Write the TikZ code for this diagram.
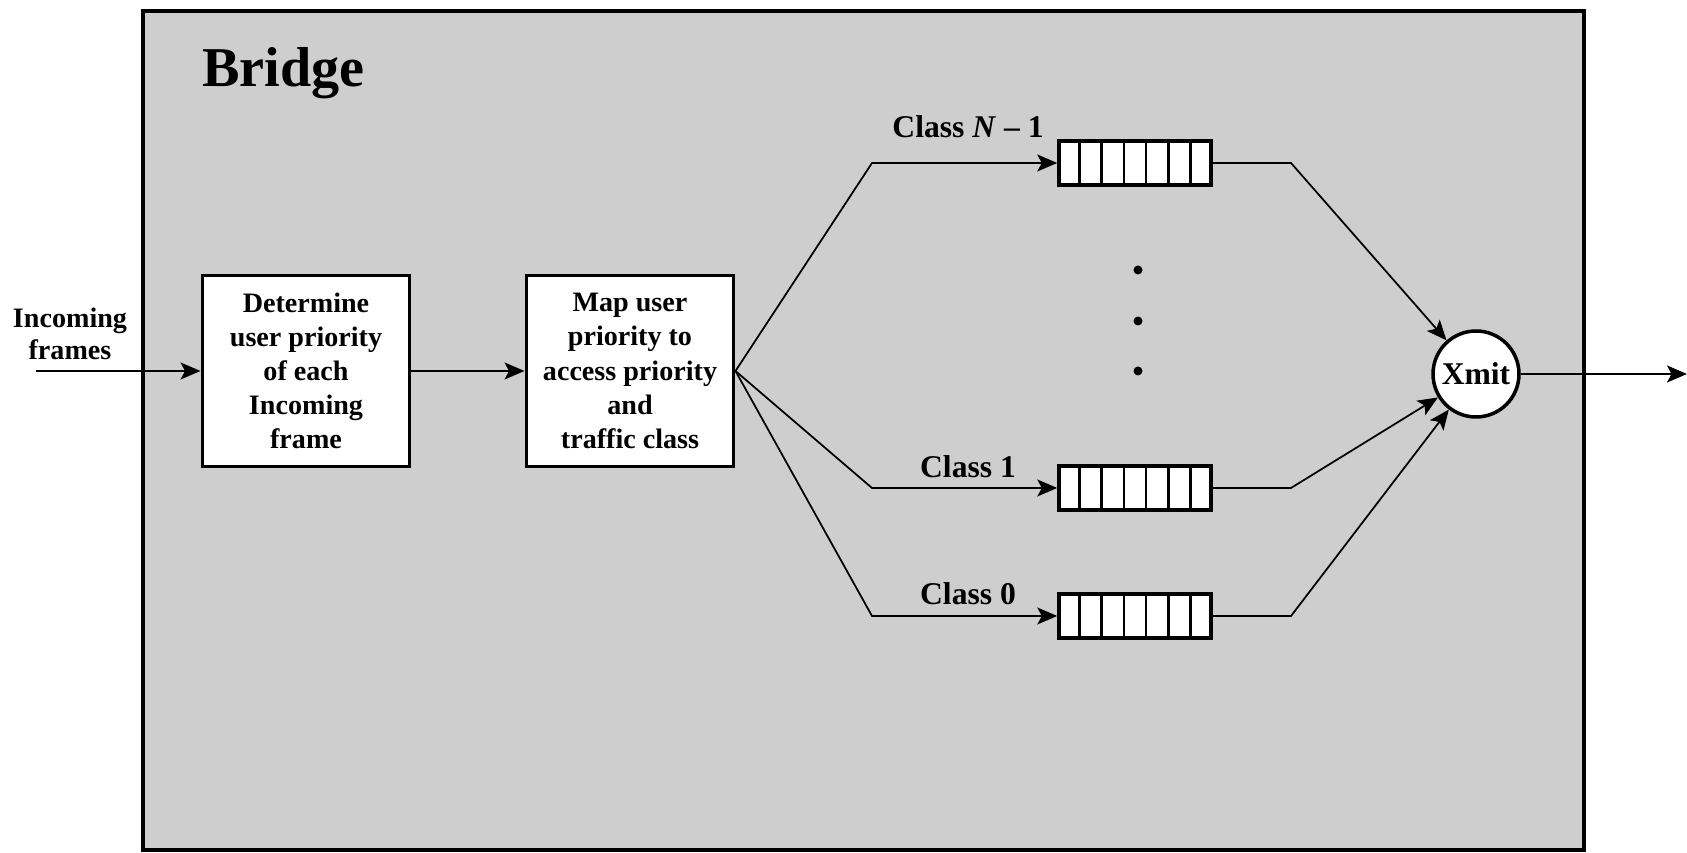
\documentclass[tikz,border=0pt]{standalone}
\usepackage{fontspec}
\setmainfont{Liberation Serif}
\usetikzlibrary{arrows.meta, calc}
\definecolor{bridgeGray}{RGB}{206,206,206}

\begin{document}
\begin{tikzpicture}[
  x=0.02cm, y=0.02cm,
  >={Stealth[length=0.4cm, width=0.34cm, inset=0.09cm]},
  txt/.style={font=\fontsize{16}{19.4}\selectfont\bfseries, align=center},
  procbox/.style={txt, draw, line width=2pt, fill=white, minimum width=4.15cm, minimum height=3.82cm, inner sep=0pt},
  queue/.style={draw, line width=2pt, fill=white, minimum width=3.04cm, minimum height=0.88cm, inner sep=0pt},
  xmitnode/.style={circle, draw, line width=2pt, fill=white, minimum size=1.72cm, inner sep=0pt, font=\fontsize{18}{20}\selectfont\bfseries},
  flow/.style={line width=1pt},
]
  \useasboundingbox (0,0) rectangle (1687,852);
  \draw[line width=2.8pt, fill=bridgeGray] (143,2) rectangle (1584,841);
  \node[anchor=west, font=\fontsize{32}{36}\selectfont\bfseries] (title) at (196,779) {Bridge};

  \node[txt, font=\fontsize{16}{18.4}\selectfont\bfseries] (inlbl) at (70,518) {Incoming\\frames};
  \coordinate (inc) at (36,481);
  \node[procbox] (det) at (306,481) {Determine\\user priority\\of each\\Incoming\\frame};
  \node[procbox] (map) at (630,481) {Map user\\priority to\\access priority\\and\\traffic class};

  \node[queue] (qN) at (1135,689) {};
  \node[queue] (q1) at (1135,364) {};
  \node[queue] (q0) at (1135,236) {};
  \foreach \q in {qN,q1,q0}
    \foreach \i in {1,...,6}
      \draw[line width=1.5pt] ($(\q.north west)!\i/7!(\q.north east)$) -- ($(\q.south west)!\i/7!(\q.south east)$);

  \node[txt, font=\fontsize{18}{20}\selectfont\bfseries] (cN) at (968,725) {Class \textit{N} – 1};
  \node[txt, font=\fontsize{18}{20}\selectfont\bfseries] (c1) at (968,385) {Class 1};
  \node[txt, font=\fontsize{18}{20}\selectfont\bfseries] (c0) at (968,258) {Class 0};

  \foreach \y in {582,531,481}
    \fill (1138,\y) circle (0.09cm);

  \node[xmitnode] (xmit) at (1476,478) {Xmit};
  \coordinate (out) at (1687,478);

  \coordinate (aN) at (872,689);
  \coordinate (a1) at (872,364);
  \coordinate (a0) at (872,236);
  \coordinate (bN) at (1291,689);
  \coordinate (b1) at (1291,364);
  \coordinate (b0) at (1291,236);

  \draw[flow,->] (inc) -- (det);
  \draw[flow,->] (det) -- (map);
  \draw[flow,->] (map.east) -- (aN) -- (qN);
  \draw[flow,->] (map.east) -- (a1) -- (q1);
  \draw[flow,->] (map.east) -- (a0) -- (q0);
  \draw[flow,->] (qN) -- (bN) -- (xmit);
  \draw[flow,->] (q1) -- (b1) -- (xmit);
  \draw[flow,->] (q0) -- (b0) -- (xmit);
  \draw[flow,->] (xmit) -- (out);
\end{tikzpicture}
\end{document}
